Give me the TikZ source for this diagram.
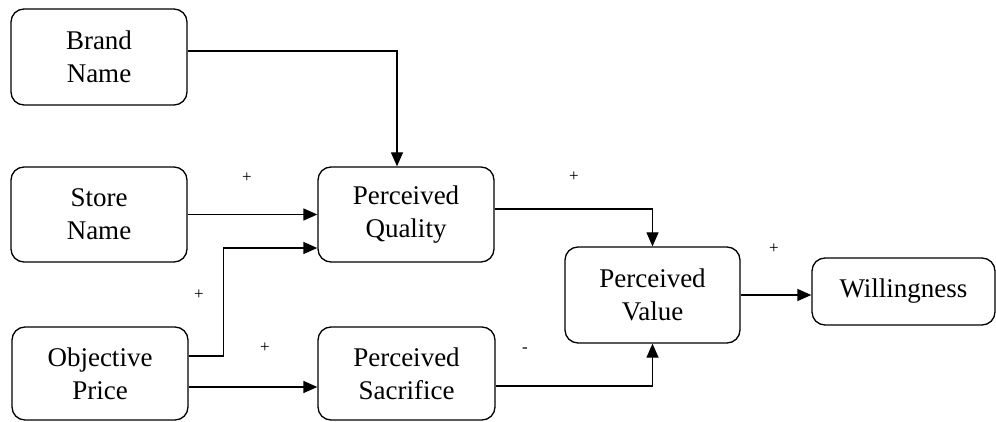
\documentclass[tikz,border=0pt]{standalone}
\usepackage{fontspec}
\setmainfont{Liberation Serif}
\usetikzlibrary{arrows.meta}
\begin{document}
\begin{tikzpicture}[x=1pt,y=-1pt,
  box/.style={draw,line width=1.3pt,rounded corners=13pt,align=center,inner sep=0pt,
    font=\fontsize{27}{33}\selectfont},
  arr/.style={line width=1.3pt,-{Triangle[length=14pt,width=12pt]}},
  sgn/.style={font=\fontsize{17}{17}\selectfont,inner sep=0pt}]
\useasboundingbox (0,0) rectangle (996,422);
\node[box,minimum width=176pt,minimum height=96pt] (brand) at (99,57) {Brand\\Name};
\node[box,minimum width=176pt,minimum height=95pt] (store) at (99,214.5) {Store\\Name};
\node[box,minimum width=176pt,minimum height=93pt] (op) at (100,373.5) {Objective\\Price};
\node[box,minimum width=176pt,minimum height=95pt] (pq) at (406,214.5) {Perceived\\Quality};
\node[box,minimum width=177pt,minimum height=93pt] (ps) at (406.5,373.5) {Perceived\\Sacrifice};
\node[box,minimum width=175pt,minimum height=96pt] (pv) at (652.5,295) {Perceived\\Value};
\node[box,minimum width=183pt,minimum height=67pt] (will) at (903.5,291.5) {Willingness};
\draw[arr] ([yshift=6pt]brand.east) -| ([xshift=-9pt]pq.north);
\draw[arr] (store.east) -- (pq.west);
\draw[arr] ([yshift=17.5pt]op.east) -- ++(35,0) |- ([yshift=-33.5pt]pq.west);
\draw[arr] ([yshift=-13.5pt]op.east) -- ([yshift=-13.5pt]ps.west);
\draw[arr] ([yshift=5.5pt]pq.east) -| (pv.north);
\draw[arr] ([yshift=-12.5pt]ps.east) -| (pv.south);
\draw[arr] (pv.east) -- (pv.east -| will.west);
\node[sgn] (s1) at (247,178) {+};
\node[sgn] (s2) at (199,295) {+};
\node[sgn] (s3) at (265,348) {+};
\node[sgn] (s4) at (574,177) {+};
\node[sgn] (s5) at (525,350) {-};
\node[sgn] (s6) at (774,249) {+};
\end{tikzpicture}
\end{document}
